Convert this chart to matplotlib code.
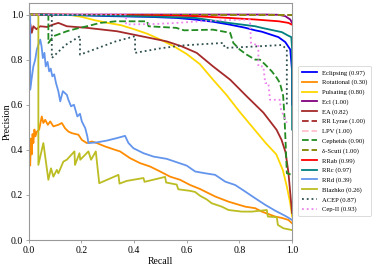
"""Precision-recall curves per variable-star class"""

import matplotlib
matplotlib.use("Agg")
import matplotlib.pyplot as plt

plt.rcParams["font.family"] = ["Liberation Serif", "DejaVu Serif"]

# ---- data (recall, precision) ----
eclipsing_r = [0, 0.1, 0.2, 0.31, 0.45, 0.56, 0.63, 0.7, 0.76, 0.82, 0.86, 0.885, 0.948, 0.974, 0.993, 1.0, 1.0]
eclipsing_p = [1.0, 0.999, 0.997, 0.993, 0.99, 0.985, 0.978, 0.968, 0.956, 0.942, 0.93, 0.924, 0.9, 0.878, 0.845, 0.75, 0.6]

rotational_r = [0, 0.003, 0.006, 0.009, 0.012, 0.015, 0.018, 0.022, 0.026, 0.031, 0.04, 0.05, 0.056, 0.063,
                0.073, 0.082, 0.094, 0.113, 0.126, 0.138, 0.151, 0.164, 0.189, 0.202, 0.221, 0.24, 0.259, 0.29,
                0.328, 0.347, 0.385, 0.423, 0.461, 0.499, 0.537, 0.575, 0.613, 0.651, 0.67, 0.708, 0.759, 0.822,
                0.86, 0.885, 0.936, 0.961, 0.986, 1.0]
rotational_p = [0.25, 0.40, 0.33, 0.45, 0.38, 0.47, 0.43, 0.49, 0.46, 0.48, 0.49, 0.548, 0.519, 0.533,
                0.511, 0.526, 0.504, 0.511, 0.519, 0.496, 0.481, 0.474, 0.467, 0.444, 0.43, 0.437, 0.43, 0.415,
                0.40, 0.393, 0.363, 0.341, 0.326, 0.304, 0.281, 0.267, 0.244, 0.226, 0.215, 0.193, 0.17, 0.148,
                0.141, 0.126, 0.104, 0.098, 0.089, 0.074]

pulsating_r = [0, 0.15, 0.2, 0.25, 0.3, 0.35, 0.4, 0.45, 0.5, 0.55, 0.6, 0.65, 0.7, 0.75, 0.8, 0.85, 0.9,
               0.94, 0.965, 0.98, 0.993, 1.0]
pulsating_p = [1.0, 1.0, 0.99, 0.975, 0.963, 0.953, 0.935, 0.915, 0.889, 0.86, 0.825, 0.78, 0.711, 0.645,
               0.57, 0.5, 0.43, 0.38, 0.31, 0.237, 0.163, 0.105]

ecl_r = [0, 0.9, 0.948, 0.974, 0.993, 1.0]
ecl_p = [1.0, 1.0, 0.999, 0.993, 0.978, 0.963]

ea_r = [0, 0.006, 0.012, 0.018, 0.03, 0.044, 0.07, 0.094, 0.113, 0.145, 0.221, 0.335, 0.398, 0.461, 0.524,
        0.581, 0.638, 0.7, 0.765, 0.828, 0.891, 0.941, 0.96, 0.975, 0.986, 0.996, 1.0]
ea_p = [1.0, 0.96, 0.919, 0.948, 0.935, 0.948, 0.945, 0.956, 0.963, 0.948, 0.941, 0.926, 0.911, 0.896, 0.881,
        0.859, 0.83, 0.77, 0.711, 0.637, 0.565, 0.489, 0.444, 0.39, 0.30, 0.17, 0.12]

rrlyrae_r = [0, 1.0]
rrlyrae_p = [1.0, 1.0]

lpv_r = [0, 1.0]
lpv_p = [1.0, 1.0]

cepheids_r = [0, 0.075, 0.075, 0.094, 0.12, 0.145, 0.18, 0.221, 0.272, 0.33, 0.45, 0.455, 0.56, 0.59, 0.70,
              0.765, 0.777, 0.802, 0.828, 0.86, 0.878, 0.898, 0.923, 0.942, 0.954, 0.966, 0.971, 0.976, 0.98, 1.0]
cepheids_p = [1.0, 1.0, 0.874, 0.904, 0.915, 0.926, 0.937, 0.948, 0.963, 0.97, 0.97, 0.948, 0.941, 0.93, 0.933,
              0.919, 0.874, 0.844, 0.822, 0.80, 0.8, 0.778, 0.748, 0.719, 0.696, 0.64, 0.548, 0.415, 0.296, 0.289]

dscuti_r = [0, 1.0]
dscuti_p = [1.0, 1.0]

rrab_r = [0, 0.5, 0.63, 0.76, 0.86, 0.95, 0.986, 1.0]
rrab_p = [1.0, 0.996, 0.993, 0.985, 0.978, 0.97, 0.963, 0.955]

rrc_r = [0, 0.3, 0.5, 0.632, 0.759, 0.86, 0.885, 0.961, 0.986, 0.997, 1.0, 1.0]
rrc_p = [1.0, 0.995, 0.99, 0.985, 0.963, 0.948, 0.941, 0.922, 0.906, 0.9, 0.85, 0.49]

rrd_r = [0, 0.006, 0.006, 0.012, 0.018, 0.025, 0.031, 0.044, 0.049, 0.054, 0.06, 0.065, 0.072, 0.078, 0.084,
         0.09, 0.097, 0.104, 0.113, 0.12, 0.13, 0.145, 0.151, 0.161, 0.172, 0.185, 0.195, 0.202, 0.215, 0.223,
         0.227, 0.259, 0.297, 0.335, 0.366, 0.379, 0.398, 0.436, 0.474, 0.524, 0.562, 0.6, 0.632, 0.67, 0.708,
         0.746, 0.784, 0.822, 0.86, 0.898, 0.936, 0.974, 1.0]
rrd_p = [1.0, 1.0, 0.667, 0.72, 0.77, 0.80, 0.844, 0.889, 0.86, 0.807, 0.83, 0.77, 0.79, 0.748, 0.76,
         0.726, 0.735, 0.696, 0.659, 0.615, 0.66, 0.644, 0.622, 0.593, 0.60, 0.548, 0.56, 0.526, 0.496, 0.459,
         0.43, 0.433, 0.441, 0.452, 0.462, 0.43, 0.407, 0.385, 0.37, 0.36, 0.345, 0.33, 0.304, 0.296, 0.289,
         0.259, 0.244, 0.215, 0.185, 0.156, 0.13, 0.107, 0.089]

blazhko_r = [0, 0.037, 0.037, 0.056, 0.075, 0.085, 0.094, 0.107, 0.113, 0.132, 0.145, 0.174, 0.176, 0.193,
             0.196, 0.227, 0.237, 0.255, 0.268, 0.341, 0.345, 0.372, 0.436, 0.44, 0.518, 0.522, 0.562, 0.568,
             0.613, 0.632, 0.651, 0.676, 0.695, 0.733, 0.759, 0.809, 0.847, 0.904, 0.908, 0.942, 0.946, 0.967, 1.0]
blazhko_p = [1.0, 1.0, 0.333, 0.43, 0.267, 0.318, 0.281, 0.311, 0.296, 0.348, 0.356, 0.393, 0.333, 0.385,
             0.356, 0.393, 0.356, 0.393, 0.252, 0.289, 0.25, 0.262, 0.275, 0.258, 0.28, 0.255, 0.246, 0.225,
             0.218, 0.213, 0.196, 0.18, 0.163, 0.148, 0.133, 0.126, 0.126, 0.133, 0.104, 0.101, 0.067, 0.052, 0.044]

acep_r = [0, 0.088, 0.088, 0.14, 0.195, 0.195, 0.26, 0.328, 0.404, 0.404, 0.5, 0.575, 0.651, 0.739, 0.745,
          0.8, 0.872, 0.961, 0.974, 0.98, 0.98]
acep_p = [1.0, 1.0, 0.807, 0.865, 0.904, 0.822, 0.85, 0.88, 0.904, 0.83, 0.85, 0.862, 0.868, 0.874, 0.852,
          0.855, 0.859, 0.865, 0.852, 0.844, 0.59]

cep2_r = [0, 0.37, 0.37, 0.474, 0.55, 0.651, 0.75, 0.84, 0.844, 0.866, 0.872, 0.872, 0.891, 0.898, 0.91,
          0.916, 0.92, 0.953, 0.958, 0.98]
cep2_p = [1.0, 1.0, 0.956, 0.958, 0.962, 0.97, 0.975, 0.978, 0.874, 0.865, 0.867, 0.77, 0.77, 0.696, 0.696,
          0.622, 0.622, 0.622, 0.578, 0.52]

curves = [
    ("Eclipsing (0.97)", eclipsing_r, eclipsing_p, "blue", "-"),
    ("Rotational (0.30)", rotational_r, rotational_p, "darkorange", "-"),
    ("Pulsating (0.80)", pulsating_r, pulsating_p, "gold", "-"),
    ("Ecl (1.00)", ecl_r, ecl_p, "purple", "-"),
    ("EA (0.82)", ea_r, ea_p, "brown", "-"),
    ("RR Lyrae (1.00)", rrlyrae_r, rrlyrae_p, "brown", "--"),
    ("LPV (1.00)", lpv_r, lpv_p, "pink", "--"),
    ("Cepheids (0.90)", cepheids_r, cepheids_p, "forestgreen", "--"),
    ("δ-Scuti (1.00)", dscuti_r, dscuti_p, "olive", "--"),
    ("RRab (0.99)", rrab_r, rrab_p, "red", "-"),
    ("RRc (0.97)", rrc_r, rrc_p, "teal", "-"),
    ("RRd (0.39)", rrd_r, rrd_p, "cornflowerblue", "-"),
    ("Blazhko (0.26)", blazhko_r, blazhko_p, "#bcbd22", "-"),
    ("ACEP (0.87)", acep_r, acep_p, "darkslategray", ":"),
    ("Cep-II (0.93)", cep2_r, cep2_p, "violet", ":"),
]

fig = plt.figure(figsize=(3.74, 2.66), dpi=100)
ax = fig.add_axes([0.0765, 0.0977, 0.7045, 0.89])

for label, r, p, color, ls in curves:
    ax.plot(r, p, color=color, linestyle=ls, linewidth=1.3, label=label)

ax.set_xlim(0, 1.0)
ax.set_ylim(0, 1.05)
ax.set_xticks([0, 0.2, 0.4, 0.6, 0.8, 1.0])
ax.set_yticks([0, 0.2, 0.4, 0.6, 0.8, 1.0])
ax.set_xlabel("Recall", fontsize=7, labelpad=2)
ax.set_ylabel("Precision", fontsize=7)
ax.yaxis.set_label_coords(-0.066, 0.5)
ax.tick_params(labelsize=7, length=2.5, width=0.6, color="#999999", pad=1.5)
for s in ax.spines.values():
    s.set_color("#999999")
    s.set_linewidth(0.8)

leg = ax.legend(loc="center left", bbox_to_anchor=(0.789, 0.47), bbox_transform=fig.transFigure,
                fontsize=4.8, labelspacing=0.56, handlelength=2.25, handletextpad=0.7,
                borderpad=0.55, frameon=True)
leg.get_frame().set_edgecolor("#cccccc")
leg.get_frame().set_linewidth(0.6)

fig.savefig("out.png", dpi=100)
